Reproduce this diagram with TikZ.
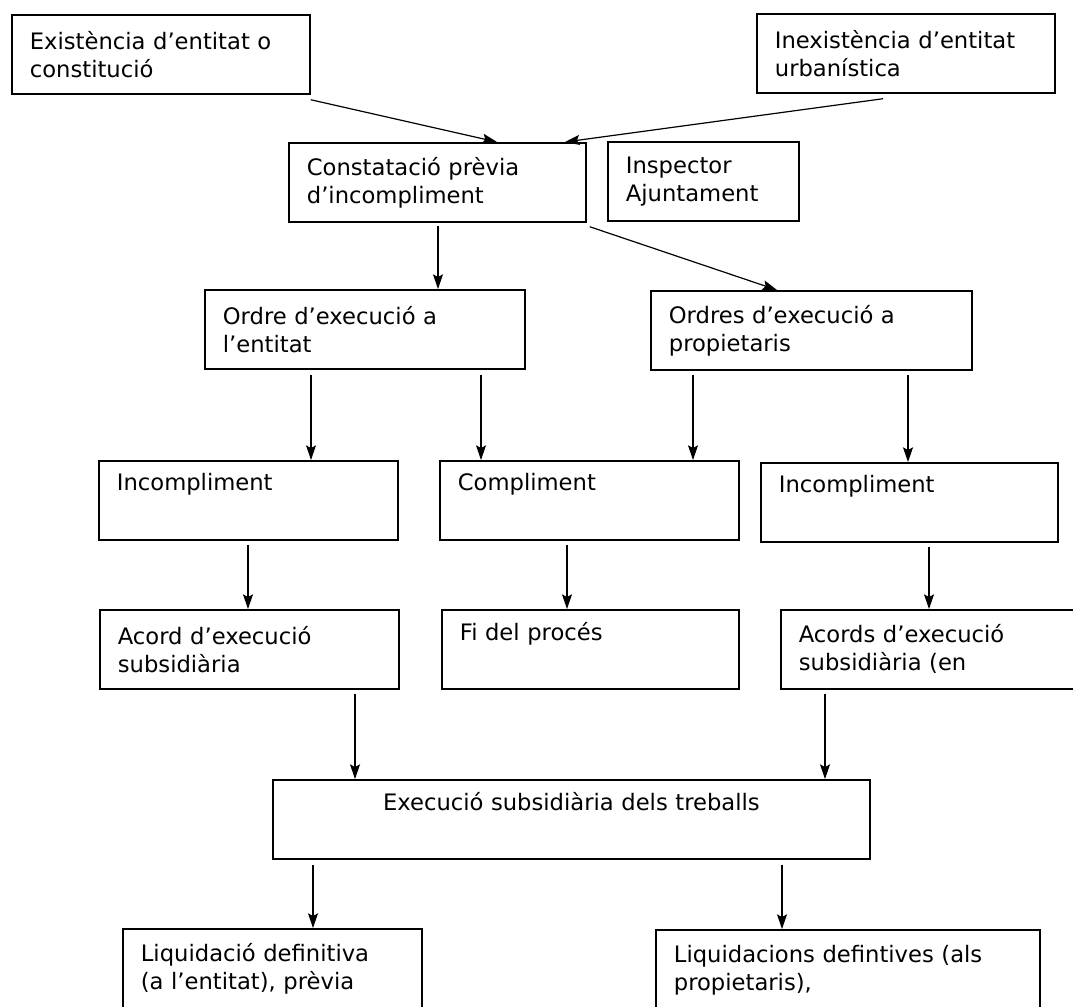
\documentclass[tikz,border=0pt]{standalone}
\usepackage{fontspec}
\setmainfont{DejaVu Sans}
\usetikzlibrary{arrows.meta}

\begin{document}
\begin{tikzpicture}[x=0.75pt,y=-0.75pt,>={Stealth[length=11pt,width=7.5pt,inset=2pt]},
        arr/.style={->,line width=0.9pt},
        box/.style={draw,line width=1.3pt,anchor=north west,align=left,
          inner xsep=13.5pt,inner ysep=0pt,minimum height=59.25pt,
          font=\fontsize{17}{21}\selectfont,text width=#1}]

  \useasboundingbox (0,0) rectangle (1073,1006);
  \clip (0,0) rectangle (1073,1006);

  \node[box=196.5pt] (exist) at (11,14) {Existència d’entitat o\\constitució};
  \node[box=196.5pt] (inexist) at (756,13) {Inexistència d’entitat\\urbanística};
  \node[box=195.75pt] (constat) at (288,142) {Constatació prèvia\\d’incompliment};
  \node[box=116.25pt] (inspector) at (607,141) {Inspector\\Ajuntament};
  \node[box=213pt] (ordre) at (204,289) {Ordre d’execució a\\l’entitat};
  \node[box=213.75pt] (ordres) at (650,290) {Ordres d’execució a\\propietaris};
  \node[box=197.25pt] (incomp1) at (98,460) {Incompliment\\\strut};
  \node[box=197.25pt] (compl) at (439,460) {Compliment\\\strut};
  \node[box=195.75pt] (incomp2) at (760,462) {Incompliment\\\strut};
  \node[box=197.25pt] (acord) at (99,609) {Acord d’execució\\subsidiària};
  \node[box=195.75pt] (fi) at (441,609) {Fi del procés\\\strut};
  \node[box=213pt] (acords) at (780,609) {Acords d’execució\\subsidiària (en};
  \node[box=420.75pt,align=center] (exec) at (272,779) {Execució subsidiària dels treballs\\\strut};
  \node[box=197.25pt,minimum height=60pt] (liq1) at (122,928) {Liquidació definitiva\\(a l’entitat), prèvia};
  \node[box=261pt,minimum height=60pt] (liq2) at (655,929) {Liquidacions defintives (als\\propietaris),};

  \coordinate (c1) at ([shift={(150,3)}]constat.south west);
  \coordinate (o1) at ([shift={(107,5)}]ordre.south west);
  \coordinate (o2) at ([shift={(277,5)}]ordre.south west);
  \coordinate (p1) at ([shift={(43,4)}]ordres.south west);
  \coordinate (p2) at ([shift={(258,4)}]ordres.south west);
  \coordinate (i1) at ([shift={(150,4)}]incomp1.south west);
  \coordinate (cm) at ([shift={(128,4)}]compl.south west);
  \coordinate (i2) at ([shift={(169,4)}]incomp2.south west);
  \coordinate (a1) at ([shift={(256,4)}]acord.south west);
  \coordinate (a2) at ([shift={(45,4)}]acords.south west);
  \coordinate (e1) at ([shift={(41,5)}]exec.south west);
  \coordinate (e2) at ([shift={(510,5)}]exec.south west);

  \path[arr] ([shift={(0,5)}]exist.south east) edge ([shift={(209,0)}]constat.north west)
        ([shift={(127,5)}]inexist.south west) edge ([shift={(277,0)}]constat.north west)
        (c1) edge (c1 |- ordre.north)
        ([shift={(3,4)}]constat.south east) edge ([shift={(127,0)}]ordres.north west)
        (o1) edge (o1 |- incomp1.north)
        (o2) edge (o2 |- compl.north)
        (p1) edge (p1 |- compl.north)
        (p2) edge (p2 |- incomp2.north)
        (i1) edge (i1 |- acord.north)
        (cm) edge (cm |- fi.north)
        (i2) edge (i2 |- acords.north)
        (a1) edge (a1 |- exec.north)
        (a2) edge (a2 |- exec.north)
        (e1) edge (e1 |- liq1.north)
        (e2) edge (e2 |- liq2.north);

\end{tikzpicture}
\end{document}
